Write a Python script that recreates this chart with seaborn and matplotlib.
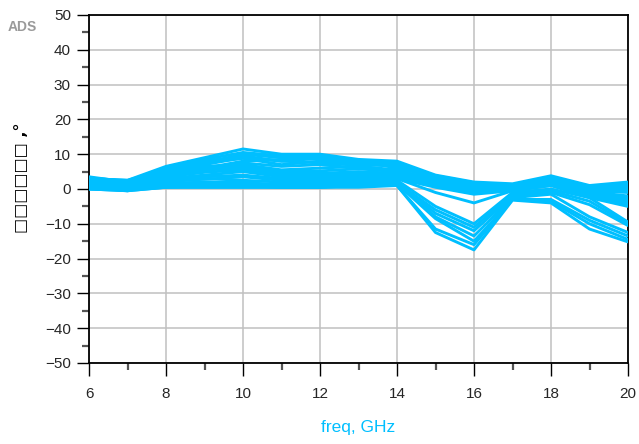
import numpy as np
import pandas as pd
import matplotlib
matplotlib.use("Agg")
import matplotlib.pyplot as plt
import seaborn as sns
from matplotlib.ticker import MultipleLocator

freq = [6, 7, 8, 9, 10, 11, 12, 13, 14, 15, 16, 17, 18, 19, 20]

line_01 = [3.0, 2.5, 6.5, 9.0, 11.5, 10.0, 10.0, 8.5, 8.0, 4.0, 2.0, 1.5, 3.8, 1.0, 2.0]
line_02 = [3.5, 2.0, 6.0, 8.5, 10.5, 9.5, 9.5, 8.0, 7.5, 3.5, 1.5, 1.0, 3.5, 0.5, 1.5]
line_03 = [2.5, 1.5, 5.5, 7.5, 8.8, 7.0, 8.0, 7.5, 6.5, 3.0, 1.0, 1.0, 3.0, 0.0, 0.5]
line_04 = [2.0, 1.0, 5.0, 6.5, 7.0, 5.5, 6.0, 6.5, 5.5, 2.5, 0.5, 0.5, 2.5, -0.5, -1.0]
line_05 = [1.5, 0.5, 4.0, 5.5, 6.0, 4.5, 4.5, 5.0, 4.5, 2.0, 0.0, 0.5, 2.0, -1.0, -3.0]
line_06 = [1.0, 0.0, 3.0, 4.0, 5.0, 3.5, 3.5, 4.0, 3.5, 1.0, -1.0, 0.0, 1.5, -2.0, -3.7]
line_07 = [0.5, -0.5, 2.0, 3.0, 2.5, 2.0, 2.0, 3.0, 3.0, -1.0, -4.0, -0.5, 1.0, -2.5, -5.0]
line_08 = [1.0, 0.0, 1.5, 2.0, 2.0, 1.0, 1.0, 2.0, 2.5, -5.0, -10.0, -1.0, 0.0, -2.5, -9.5]
line_09 = [0.5, 0.0, 1.0, 1.5, 1.5, 1.0, 1.0, 1.5, 2.0, -7.0, -12.0, -2.0, -1.0, -4.5, -10.5]
line_10 = [0.5, 0.0, 1.0, 1.0, 1.0, 0.5, 0.5, 1.5, 2.0, -8.0, -13.5, -2.5, -1.5, -8.0, -12.5]
line_11 = [0.0, 0.0, 0.5, 1.0, 1.0, 0.5, 0.5, 1.0, 1.5, -8.5, -15.0, -3.0, -3.0, -9.0, -13.5]
line_12 = [0.0, -0.5, 0.5, 0.5, 0.5, 0.5, 0.5, 1.0, 1.0, -11.5, -16.0, -3.0, -3.5, -10.0, -14.5]
line_13 = [0.0, -0.5, 0.5, 0.5, 0.5, 0.5, 0.5, 0.5, 1.0, -12.5, -17.5, -3.2, -4.0, -11.5, -15.2]
line_14 = [2.5, 2.0, 4.5, 6.0, 8.0, 8.5, 9.0, 8.0, 6.0, 3.5, 1.5, 1.0, 3.0, 0.5, 0.5]
line_15 = [2.0, 1.5, 3.5, 5.0, 7.5, 6.5, 7.0, 6.0, 5.0, 3.0, 1.0, 0.5, 2.5, 0.0, -0.5]
line_16 = [1.5, 1.0, 2.5, 3.5, 4.0, 3.0, 3.0, 3.5, 4.0, 2.0, 0.5, 0.0, 2.0, -0.5, -2.5]
line_17 = [0.5, 0.5, 1.5, 2.0, 1.5, 1.5, 1.5, 2.5, 3.0, 0.5, -1.5, -0.5, 1.0, -1.5, -4.0]
line_18 = [3.0, 2.5, 5.5, 7.5, 10.0, 9.0, 8.5, 7.0, 7.0, 3.8, 1.8, 1.2, 3.5, 0.8, 1.0]
line_19 = [3.2, 2.2, 5.8, 8.0, 9.5, 8.0, 8.8, 7.8, 7.2, 3.2, 1.2, 0.8, 3.2, 0.2, 0.0]
line_20 = [1.8, 1.2, 4.2, 6.0, 6.5, 5.0, 5.2, 5.8, 5.0, 2.2, 0.2, 0.2, 2.2, -0.8, -2.0]
line_21 = [1.2, 0.3, 3.5, 4.8, 5.5, 4.0, 4.0, 4.5, 4.0, 1.5, -0.5, 0.2, 1.8, -1.5, -3.3]
line_22 = [0.8, 0.2, 2.2, 2.8, 3.5, 2.5, 2.5, 3.2, 3.5, 1.2, -0.8, -0.2, 1.2, -1.8, -4.5]
line_23 = [0.2, -0.2, 1.0, 1.2, 1.2, 0.8, 0.8, 1.2, 1.8, -6.0, -11.0, -1.5, -0.5, -3.5, -10.0]
line_24 = [2.8, 2.3, 5.0, 7.0, 9.0, 8.0, 7.5, 6.8, 6.8, 3.6, 1.6, 1.1, 3.3, 0.6, 0.8]

series = [line_01, line_02, line_03, line_04, line_05, line_06, line_07, line_08, line_09,
          line_10, line_11, line_12, line_13, line_14, line_15, line_16, line_17, line_18,
          line_19, line_20, line_21, line_22, line_23, line_24]

x_ticks = [6, 8, 10, 12, 14, 16, 18, 20]
y_ticks = [-50, -40, -30, -20, -10, 0, 10, 20, 30, 40, 50]
x_label = "freq, GHz"
y_label = "□□□□□□ ,°"

rows = []
for i, s in enumerate(series):
    for f, v in zip(freq, s):
        rows.append({"freq": f, "phase": v, "trace": i})
df = pd.DataFrame(rows)

sns.set_style("white")
plt.rcParams['font.family'] = ['Liberation Sans', 'DejaVu Sans']

fig = plt.figure(figsize=(6.39, 4.44), dpi=100)
ax = fig.add_axes([89/639, 81/444, 539/639, 348/444])

line_color = "#00BFFF"
sns.lineplot(data=df, x="freq", y="phase", units="trace", estimator=None,
             color=line_color, linewidth=2.1, ax=ax, legend=False, zorder=3)

ax.set_xlim(6, 20)
ax.set_ylim(-50, 50)
ax.set_xticks(x_ticks)
ax.set_yticks(y_ticks)
ax.xaxis.set_minor_locator(MultipleLocator(1))
ax.yaxis.set_minor_locator(MultipleLocator(5))
ax.grid(True, which="major", color="#c0c0c0", linewidth=1.1, zorder=0)
ax.set_axisbelow(True)

ax.tick_params(which="major", direction="out", length=9, width=1.0, color="black",
               labelsize=11, pad=4, bottom=True, left=True, top=False, right=False)
ax.tick_params(axis="x", which="major", pad=8)
ax.tick_params(which="minor", direction="out", length=5, width=1.6, color="#555555",
               bottom=True, left=True, top=False, right=False)

for sp in ax.spines.values():
    sp.set_color("black")
    sp.set_linewidth(1.3)
    sp.set_visible(True)

ax.set_xlabel(x_label, color=line_color, fontsize=12.5, labelpad=14)
ax.set_ylabel("")
fig.text(22/639, 1 - 178/444, y_label, color="black", fontsize=11.5, rotation=90,
         fontweight="bold", ha="center", va="center", family=['DejaVu Sans'])

fig.text(8/639, 1 - 31/444, "ADS", color="#9a9a9a", fontsize=10, fontweight="bold",
         ha="left", va="baseline")

fig.savefig("out.png", dpi=100)
